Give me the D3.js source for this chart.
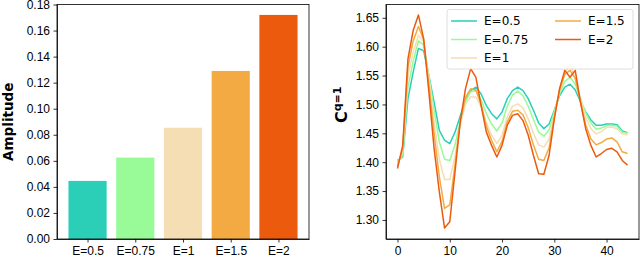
<!DOCTYPE html>
<html>
<head>
<meta charset="utf-8">
<script src="https://cdn.jsdelivr.net/npm/d3@7"></script>
<style>
  body { margin: 0; background: #fff; }
  svg { display: block; font-family: "DejaVu Sans", sans-serif; }
  .tick text { font-size: 12px; fill: #000; }
  .domain, .tick line { stroke: #000; stroke-width: 0.8; }
</style>
</head>
<body>
<div id="chart"></div>
<script>
var categories = ["E=0.5", "E=0.75", "E=1", "E=1.5", "E=2"];
var amplitude = [0.0446, 0.0625, 0.0854, 0.129, 0.172];
var colors = ["#2bcfb8", "#98fb98", "#f5deb3", "#f4aa42", "#ec5a0e"];
var yTicksLeft = [0, 0.02, 0.04, 0.06, 0.08, 0.10, 0.12, 0.14, 0.16, 0.18];

var cE05 = [1.403, 1.409, 1.510, 1.556, 1.597, 1.593, 1.550, 1.504, 1.455, 1.438, 1.432, 1.452, 1.480, 1.507, 1.524, 1.530, 1.518, 1.498, 1.484, 1.475, 1.487, 1.510, 1.524, 1.530, 1.524, 1.510, 1.490, 1.468, 1.458, 1.466, 1.490, 1.515, 1.530, 1.535, 1.525, 1.505, 1.487, 1.473, 1.464, 1.464, 1.466, 1.466, 1.465, 1.454, 1.451];
var cE075 = [1.400, 1.412, 1.530, 1.575, 1.610, 1.603, 1.550, 1.490, 1.435, 1.405, 1.403, 1.430, 1.470, 1.505, 1.522, 1.524, 1.508, 1.484, 1.466, 1.454, 1.468, 1.497, 1.516, 1.523, 1.515, 1.497, 1.474, 1.452, 1.445, 1.456, 1.487, 1.518, 1.540, 1.547, 1.535, 1.510, 1.485, 1.468, 1.457, 1.459, 1.463, 1.464, 1.462, 1.452, 1.450];
var cE1 = [1.397, 1.418, 1.550, 1.590, 1.620, 1.608, 1.545, 1.470, 1.405, 1.370, 1.370, 1.410, 1.465, 1.500, 1.513, 1.513, 1.496, 1.468, 1.447, 1.432, 1.447, 1.478, 1.497, 1.501, 1.494, 1.475, 1.450, 1.430, 1.426, 1.440, 1.483, 1.523, 1.555, 1.570, 1.545, 1.510, 1.478, 1.458, 1.449, 1.453, 1.460, 1.461, 1.458, 1.449, 1.447];
var cE15 = [1.393, 1.423, 1.565, 1.610, 1.635, 1.612, 1.535, 1.450, 1.375, 1.320, 1.326, 1.395, 1.470, 1.512, 1.527, 1.525, 1.500, 1.462, 1.438, 1.418, 1.436, 1.470, 1.488, 1.490, 1.482, 1.460, 1.430, 1.405, 1.403, 1.425, 1.478, 1.525, 1.552, 1.559, 1.545, 1.505, 1.465, 1.440, 1.430, 1.434, 1.440, 1.442, 1.435, 1.418, 1.415];
var cE2 = [1.389, 1.429, 1.579, 1.628, 1.655, 1.614, 1.522, 1.424, 1.349, 1.286, 1.297, 1.383, 1.470, 1.527, 1.562, 1.547, 1.498, 1.452, 1.429, 1.409, 1.429, 1.464, 1.481, 1.484, 1.472, 1.447, 1.412, 1.380, 1.379, 1.412, 1.475, 1.527, 1.559, 1.547, 1.559, 1.504, 1.458, 1.429, 1.409, 1.415, 1.422, 1.424, 1.418, 1.403, 1.395];
var yTicksRight = [1.30, 1.35, 1.40, 1.45, 1.50, 1.55, 1.60, 1.65];
var xTicksRight = [0, 10, 20, 30, 40];

var series = [cE05, cE075, cE1, cE15, cE2];

var width = 640, height = 258;

var svg = d3.select("#chart")
  .append("svg")
  .attr("width", width)
  .attr("height", height);

// ---- left: bar chart ----
var L = { left: 57, right: 309, top: 4.5, bottom: 239 };

var xb = d3.scaleLinear().domain([-0.64, 4.64]).range([L.left, L.right]);
var yb = d3.scaleLinear().domain([0, 0.18]).range([L.bottom, L.top]);

var left = svg.append("g");

left.selectAll(".bar")
  .data(amplitude)
  .enter()
  .append("rect")
  .attr("class", "bar")
  .attr("x", function(d, i) { return xb(i - 0.4); })
  .attr("width", function(d, i) { return xb(i + 0.4) - xb(i - 0.4); })
  .attr("y", function(d) { return yb(d); })
  .attr("height", function(d) { return yb(0) - yb(d); })
  .attr("fill", function(d, i) { return colors[i]; });

left.append("g")
  .attr("transform", "translate(0," + L.bottom + ")")
  .call(d3.axisBottom(xb).tickValues(d3.range(categories.length))
    .tickFormat(function(d) { return categories[d]; })
    .tickSize(3.5).tickPadding(3.5).tickSizeOuter(0));

left.append("g")
  .attr("transform", "translate(" + L.left + ",0)")
  .call(d3.axisLeft(yb).tickValues(yTicksLeft).tickFormat(d3.format(".2f"))
    .tickSize(3.5).tickPadding(3.5).tickSizeOuter(0));

left.append("rect")
  .attr("x", L.left).attr("y", L.top)
  .attr("width", L.right - L.left).attr("height", L.bottom - L.top)
  .attr("fill", "none").attr("stroke", "#000").attr("stroke-width", 0.8);

left.append("text")
  .attr("transform", "translate(13," + ((L.top + L.bottom) / 2) + ") rotate(-90)")
  .attr("text-anchor", "middle")
  .style("font-size", "13.5px")
  .style("font-weight", "bold")
  .text("Amplitude");

// ---- right: line chart ----
var R = { left: 386, right: 639, top: 4.5, bottom: 239 };

var xl = d3.scaleLinear().domain([-2.2, 46.2]).range([R.left, R.right]);
var yl = d3.scaleLinear().domain([1.267, 1.673]).range([R.bottom, R.top]);

var right = svg.append("g");

var line = d3.line()
  .x(function(d, i) { return xl(i); })
  .y(function(d) { return yl(d); });

right.selectAll(".series")
  .data(series)
  .enter()
  .append("path")
  .attr("class", "series")
  .attr("d", line)
  .attr("fill", "none")
  .attr("stroke", function(d, i) { return colors[i]; })
  .attr("stroke-width", 1.5)
  .attr("stroke-linejoin", "round");

right.append("g")
  .attr("transform", "translate(0," + R.bottom + ")")
  .call(d3.axisBottom(xl).tickValues(xTicksRight)
    .tickSize(3.5).tickPadding(3.5).tickSizeOuter(0));

right.append("g")
  .attr("transform", "translate(" + R.left + ",0)")
  .call(d3.axisLeft(yl).tickValues(yTicksRight).tickFormat(d3.format(".2f"))
    .tickSize(3.5).tickPadding(3.5).tickSizeOuter(0));

right.append("rect")
  .attr("x", R.left).attr("y", R.top)
  .attr("width", R.right - R.left).attr("height", R.bottom - R.top)
  .attr("fill", "none").attr("stroke", "#000").attr("stroke-width", 0.8);

var ylab = right.append("text")
  .attr("transform", "translate(347," + 123 + ") rotate(-90)")
  .style("font-weight", "bold");
ylab.append("tspan").style("font-size", "16px").text("C");
ylab.append("tspan").style("font-size", "11px").attr("dy", -6).text("q=1");

// legend
var legend = right.append("g");
legend.append("rect")
  .attr("x", 447).attr("y", 9.5)
  .attr("width", 186).attr("height", 59.5)
  .attr("rx", 2.5)
  .attr("fill", "#fff").attr("fill-opacity", 0.8)
  .attr("stroke", "#d5d5d5").attr("stroke-width", 0.8);

var item = legend.selectAll(".item")
  .data(categories)
  .enter()
  .append("g")
  .attr("class", "item")
  .attr("transform", function(d, i) {
    var col = i < 3 ? 0 : 1, row = i < 3 ? i : i - 3;
    return "translate(" + (451 + col * 104) + "," + (21 + row * 18.5) + ")";
  });

item.append("line")
  .attr("x1", 0).attr("x2", 26)
  .attr("stroke", function(d, i) { return colors[i]; })
  .attr("stroke-width", 1.5);

item.append("text")
  .attr("x", 33).attr("dy", "0.35em")
  .style("font-size", "12px")
  .text(function(d) { return d; });
</script>
</body>
</html>
